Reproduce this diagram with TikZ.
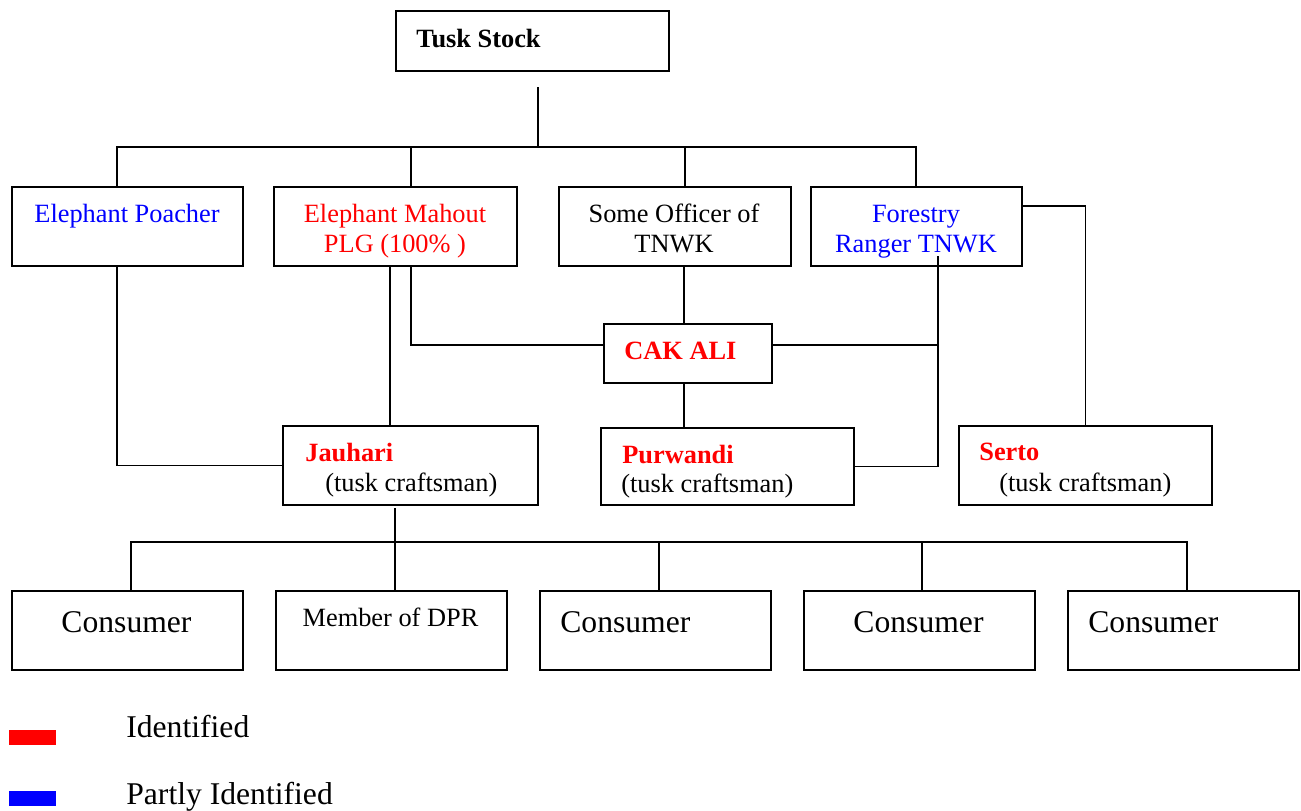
\documentclass[tikz,border=0pt]{standalone}
\usepackage{fontspec}
\setmainfont{Liberation Serif}
\usetikzlibrary{positioning, calc}
\definecolor{cIdent}{RGB}{255,0,0}
\definecolor{cPartly}{RGB}{0,0,255}
\tikzset{
	box/.style 2 args={rectangle, draw=black, line width=1pt, minimum width=#1*0.2mm, minimum height=#2*0.2mm, anchor=north west, inner sep=0pt},
	txt/.style  ={font=\fontsize{15}{17}\selectfont, align=center, inner sep=0pt, anchor=base},
	txtb/.style ={font=\fontsize{15}{17}\selectfont\bfseries, inner sep=0pt, anchor=base west, text=cIdent},
	big/.style  ={font=\fontsize{18}{21}\selectfont, inner sep=0pt, anchor=base},
	key/.style  ={rectangle, minimum width=47*0.2mm, minimum height=15*0.2mm, anchor=north west, inner sep=0pt},
	link/.style ={line width=1pt},
}

\begin{document}
\begin{tikzpicture}[x=0.2mm, y=-0.2mm]
	\useasboundingbox (0,0) rectangle (1301,810);
	% boxes
	\node[box={273}{60}] (stock) at (395,10) {};
	\node[box={231}{79}] (poacher) at (11,186) {};
	\node[box={243}{79}] (mahout) at (273,186) {};
	\node[box={232}{79}] (officer) at (558,186) {};
	\node[box={211}{79}] (ranger) at (810,186) {};
	\node[box={168}{59}] (cak) at (603,323) {};
	\node[box={255}{79}] (jauhari) at (282,425) {};
	\node[box={253}{77}] (purwandi) at (600,427) {};
	\node[box={253}{79}] (serto) at (958,425) {};
	\foreach \x/\n in {11/cons1, 275/dpr, 539/cons3, 803/cons4, 1067/cons5}
		\node[box={231}{79}] (\n) at (\x,590) {};
	% texts
	\node[txtb, text=black] (stockT) at (416,47) {Tusk Stock};
	\node[txt, text=cPartly] (poacherT) at (127,222) {Elephant Poacher};
	\node[txt, text=cIdent] (mahoutT) at (395,252) {Elephant Mahout\\PLG (100\% )};
	\node[txt] (officerT) at (674,252) {Some Officer of\\TNWK};
	\node[txt, text=cPartly] (rangerT) at (916,252) {Forestry\\Ranger TNWK};
	\node[txtb] (cakT) at (624,359) {CAK ALI};
	\node[txtb] (jauhariT) at (305,461) {Jauhari};
	\node[txt, anchor=base west] (jauhariR) at (325,491) {(tusk craftsman)};
	\node[txtb] (purwandiT) at (622,463) {Purwandi};
	\node[txt, anchor=base west] (purwandiR) at (621,492) {(tusk craftsman)};
	\node[txtb] (sertoT) at (979,460) {Serto};
	\node[txt, anchor=base west] (sertoR) at (999,491) {(tusk craftsman)};
	\node[big] (cons1T) at (126.5,632) {Consumer};
	\node[txt] (dprT) at (390.5,626) {Member of DPR};
	\node[big, anchor=base west] (cons3T) at (560,632) {Consumer};
	\node[big] (cons4T) at (918.5,632) {Consumer};
	\node[big, anchor=base west] (cons5T) at (1088,632) {Consumer};
	% top tree
	\coordinate (stem) at (538,87);
	\coordinate (busL) at (117,147);
	\coordinate (busR) at (916,147);
	\coordinate (busM) at (411,147);
	\coordinate (busO) at (685,147);
	\draw[link] (stem) -- (stem |- busL);
	\draw[link] (poacher.north -| busL) -- (busL) -- (busR) -- (ranger.north -| busR);
	\draw[link] (busM) -- (mahout.north -| busM);
	\draw[link] (busO) -- (officer.north -| busO);
	% middle links
	\coordinate (mj) at (390,300);
	\coordinate (mc) at (411,345);
	\coordinate (oc) at (684,300);
	\coordinate (rg) at (938,256);
	\coordinate (rs) at (1084,206);
	\draw[link] (poacher.south -| busL) |- (jauhari.west);
	\draw[link] (mahout.south -| mj) -- (jauhari.north -| mj);
	\draw[link] (mahout.south -| mc) |- (cak.west |- mc);
	\draw[link] (cak.east |- mc) -- (rg |- mc);
	\draw[link] (officer.south -| oc) -- (cak.north -| oc);
	\draw[link] (cak.south -| oc) -- (purwandi.north -| oc);
	\draw[link] (rg) |- (purwandi.east);
	\draw[link] (ranger.east |- rs) -| (serto.north);
	% consumers
	\coordinate (jc) at (395,508);
	\coordinate (cbusL) at (131,542);
	\coordinate (cbusR) at (1187,542);
	\draw[link] (jc) -- (dpr.north -| jc);
	\draw[link] (cons1.north -| cbusL) -- (cbusL) -- (cbusR) -- (cons5.north -| cbusR);
	\foreach \n/\x in {cons3/659, cons4/922}
		\draw[link] (\x,542) -- (\n.north -| \x,542);
	% legend
	\node[key, fill=cIdent] (keyIdent) at (9,730) {};
	\node[key, fill=cPartly] (keyPartly) at (9,791) {};
	\node[big, anchor=base west] (keyIdentT) at (126,737) {Identified};
	\node[big, anchor=base west] (keyPartlyT) at (126,804) {Partly Identified};
\end{tikzpicture}
\end{document}
